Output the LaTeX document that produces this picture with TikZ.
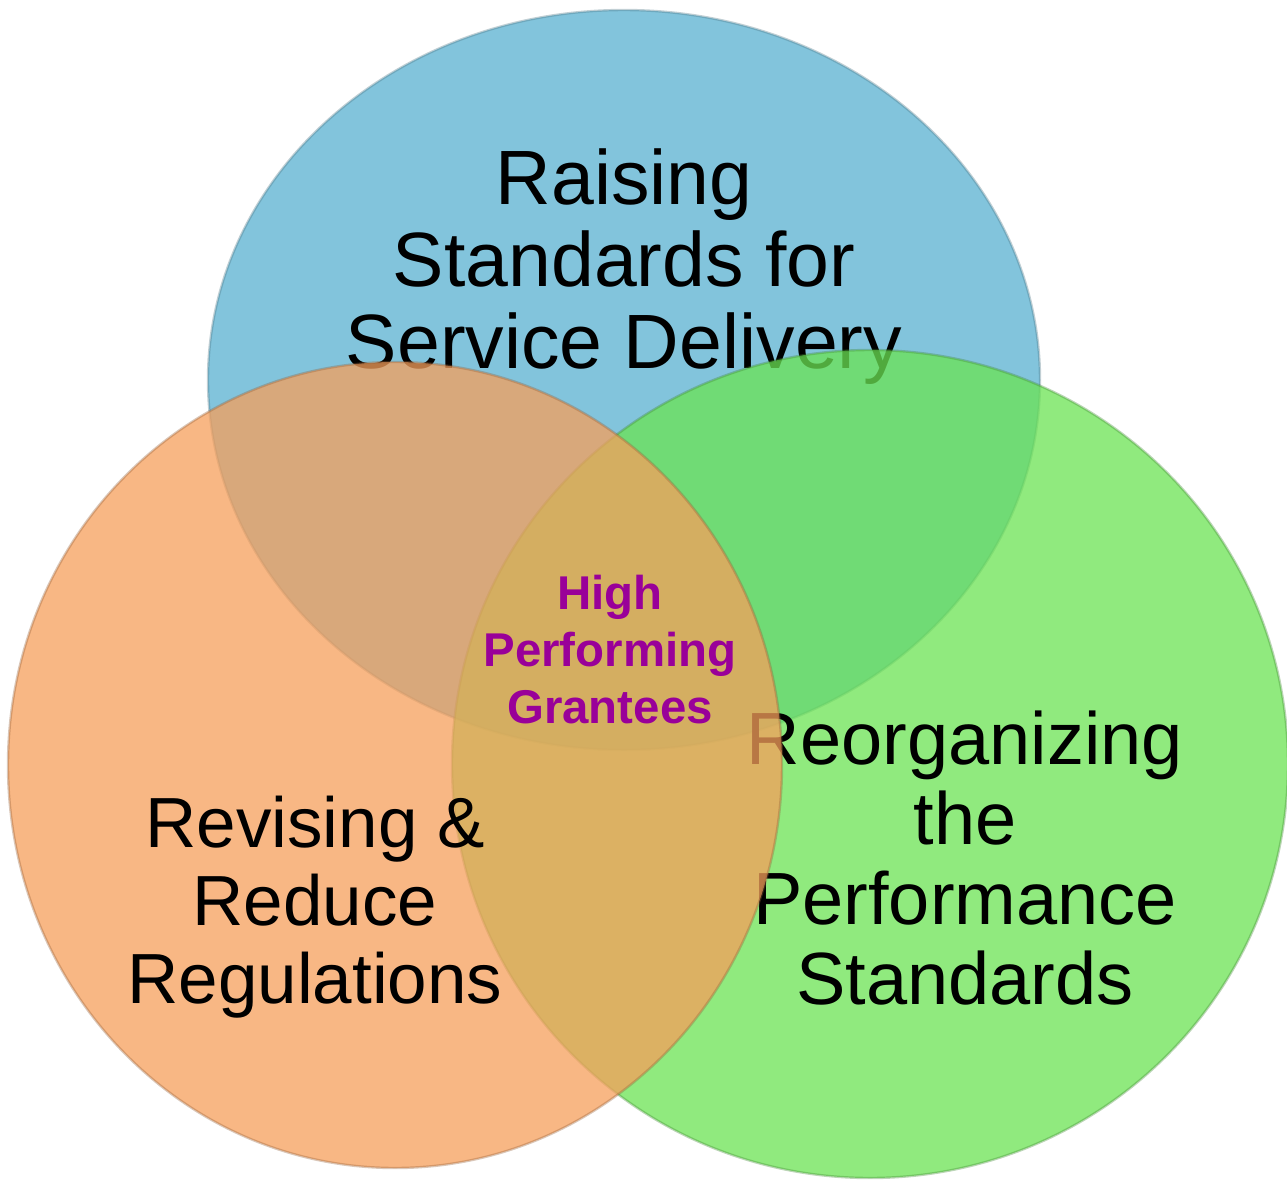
\documentclass[tikz,border=0pt]{standalone}
\usepackage{fontspec}
\setmainfont{Liberation Sans}
\usetikzlibrary{shapes.geometric}

\definecolor{skyfill}{RGB}{130,196,220}
\definecolor{leaffill}{RGB}{107,227,83}
\definecolor{peachfill}{RGB}{246,159,91}
\definecolor{grantpurple}{RGB}{153,0,153}

\begin{document}
\begin{tikzpicture}[x=0.5pt,y=-0.5pt]
\tikzstyle{disc}=[shape=ellipse,inner sep=0pt,outer sep=0pt,line width=1.2pt,draw opacity=0.35]
\tikzstyle{goal}=[align=center,text=black,inner sep=0pt]

\useasboundingbox (0,0) rectangle (1287,1180);

% raising standards (bottom layer)
\node[disc,fill=skyfill,draw=skyfill!60!black,minimum width=416pt,minimum height=370pt] (raise) at (624,380) {};
\node[goal,font=\fontsize{38.5}{41}\selectfont] (raisetxt) at (624,267) {Raising\\Standards for\\Service Delivery};

% reorganizing performance standards
\node[disc,fill=leaffill,fill opacity=0.75,draw=leaffill!60!black,minimum width=418pt,minimum height=414pt] (reorg) at (870,764) {};
\node[goal,font=\fontsize{37}{40}\selectfont] (reorgtxt) at (965,858) {Reorganizing\\the\\Performance\\Standards};

% revising regulations (top layer)
\node[disc,fill=peachfill,fill opacity=0.75,draw=peachfill!60!black,minimum width=387pt,minimum height=403pt] (revise) at (395,765) {};
\node[goal,font=\fontsize{35.5}{39}\selectfont] (revisetxt) at (315,907) {Revising \&\\Reduce\\Regulations};

% centre
\node[goal,text=grantpurple,font=\fontsize{23.7}{28.5}\selectfont\bfseries] (grantees) at (610,650) {High\\Performing\\Grantees};
\end{tikzpicture}
\end{document}
